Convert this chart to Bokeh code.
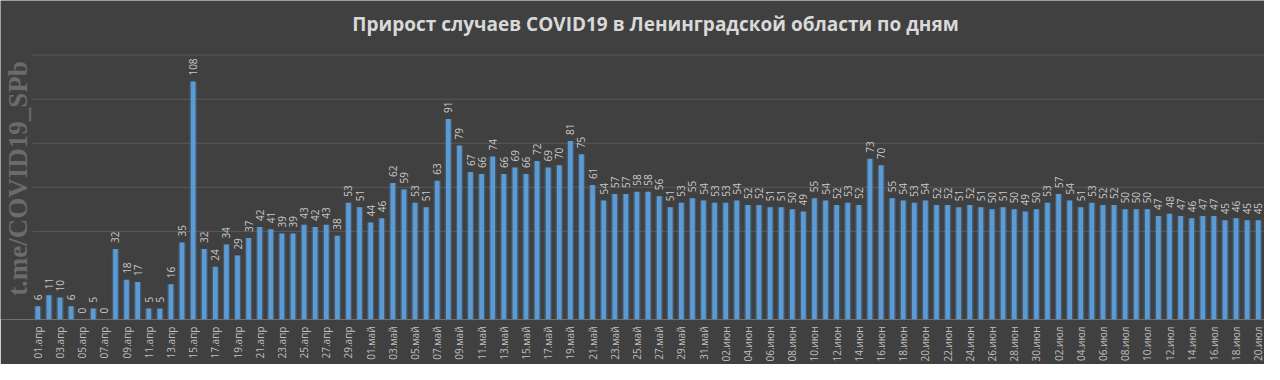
import math
from bokeh.plotting import figure
from bokeh.models import (ColumnDataSource, Range1d, FixedTicker, Label, LinearAxis)
from bokeh.core.properties import value
from bokeh.embed import file_html
from bokeh.resources import INLINE

# ---- data ----
month_names = ["апр", "май", "июн", "июл"]
month_days = [30, 31, 30, 20]

apr = [6, 11, 10, 6, 0, 5, 0, 32, 18, 17, 5, 5, 16, 35, 108, 32, 24, 34, 29, 37,
       42, 41, 39, 39, 43, 42, 43, 38, 53, 51]
may = [44, 46, 62, 59, 53, 51, 63, 91, 79, 67, 66, 74, 66, 69, 66, 72, 69, 70, 81, 75,
       61, 54, 57, 57, 58, 58, 56, 51, 53, 55, 54]
jun = [53, 53, 54, 52, 52, 51, 51, 50, 49, 55, 54, 52, 53, 52, 73, 70, 55, 54, 53, 54,
       52, 52, 51, 52, 51, 50, 51, 50, 49, 50]
jul = [53, 57, 54, 51, 53, 52, 52, 50, 50, 50, 47, 48, 47, 46, 47, 47, 45, 46, 45, 45]

grid_values = [40, 60, 80, 100, 120]

title_text = "Прирост случаев COVID19 в Ленинградской области по дням"
watermark_text = "t.me/COVID19_SPb"

# ---- build ----
values = apr + may + jun + jul
labels = []
for name, nd in zip(month_names, month_days):
    for d in range(1, nd + 1):
        labels.append("%02d.%s" % (d, name))
idx = list(range(len(values)))

src = ColumnDataSource(dict(x=idx, y=values, t=[str(v) for v in values]))

BG = "#404040"
W, H = 1264, 364
FRAME_H = 321
p = figure(width=W, height=H, output_backend="svg", toolbar_location=None,
           x_range=Range1d(-3.362, 110.56), y_range=Range1d(0, 144.8),
           x_axis_location=None, y_axis_location=None,
           min_border_left=0, min_border_right=0, min_border_top=0,
           min_border_bottom=H - FRAME_H)
p.background_fill_color = BG
p.border_fill_color = BG
p.outline_line_color = None
p.grid.visible = False

# gridlines
n = len(grid_values)
p.segment(x0=[-0.48] * n, x1=[len(values) - 0.53] * n, y0=grid_values, y1=grid_values,
          line_color="#595959", line_width=1)

# bars with glow
p.vbar(x="x", top="y", width=0.66, source=src, fill_color="#5B9BD5", fill_alpha=0.28,
       line_color=None)
p.vbar(x="x", top="y", width=0.42, source=src, fill_color="#5B9BD5", line_color=None)

# value labels
p.text(x="x", y="y", text="t", source=src, angle=math.pi / 2, text_align="left",
       text_baseline="middle", y_offset=-6, text_font=value("Open Sans"),
       text_font_size="10px", text_color="#c8c8c8")

# x axis
ax = LinearAxis(ticker=FixedTicker(ticks=idx[::2]),
                major_label_overrides={i: labels[i] for i in idx[::2]})
ax.axis_line_color = None
ax.major_tick_line_color = None
ax.minor_tick_line_color = None
ax.major_tick_out = 0
ax.major_label_standoff = 7
ax.major_label_orientation = math.pi / 2
ax.major_label_text_font = "Open Sans"
ax.major_label_text_font_size = "10px"
ax.major_label_text_color = "#bfbfbf"
p.add_layout(ax, "below")

# title and watermark
p.add_layout(Label(x=655, y=FRAME_H - 25, x_units="screen", y_units="screen",
                   text=title_text, text_align="center", text_baseline="middle",
                   text_font="Open Sans", text_font_style="bold",
                   text_font_size="19px", text_color="#d9d9d9"))
p.add_layout(Label(x=17, y=FRAME_H - 180, x_units="screen", y_units="screen",
                   text=watermark_text, angle=math.pi / 2, text_align="center",
                   text_baseline="middle", text_font="Liberation Serif",
                   text_font_style="bold", text_font_size="27px",
                   text_color="#6b6b6b"))

open("out.html", "w").write(file_html(p, INLINE))
